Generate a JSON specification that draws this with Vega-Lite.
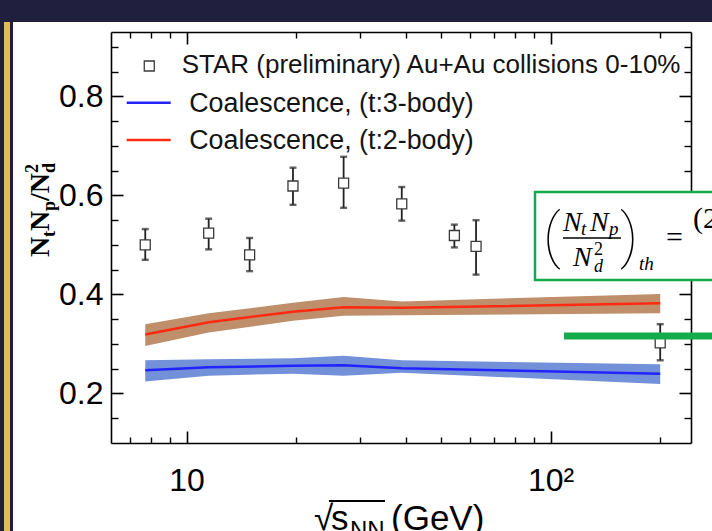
{
  "$schema": "https://vega.github.io/schema/vega-lite/v6.json",
  "width": 580,
  "height": 411,
  "autosize": {"type": "none"},
  "padding": {"left": 111, "top": 32, "right": 21, "bottom": 88},
  "background": "white",
  "config": {"view": {"stroke": null}, "axis": {"labelFont": "Liberation Sans", "labelFontSize": 32, "labelColor": "#000"}},
  "data": {"values": [{}]},
  "datasets": {
    "star": [
      {"energy": 7.7, "ratio": 0.500, "lo": 0.470, "hi": 0.532},
      {"energy": 11.5, "ratio": 0.524, "lo": 0.491, "hi": 0.553},
      {"energy": 14.9, "ratio": 0.480, "lo": 0.447, "hi": 0.514},
      {"energy": 19.6, "ratio": 0.619, "lo": 0.581, "hi": 0.656},
      {"energy": 27, "ratio": 0.625, "lo": 0.575, "hi": 0.678},
      {"energy": 39, "ratio": 0.583, "lo": 0.549, "hi": 0.617},
      {"energy": 54.4, "ratio": 0.519, "lo": 0.495, "hi": 0.541},
      {"energy": 62.4, "ratio": 0.497, "lo": 0.440, "hi": 0.550},
      {"energy": 200, "ratio": 0.302, "lo": 0.267, "hi": 0.340}
    ],
    "model": [
      {"model": "Coalescence, (t:3-body)", "energy": 7.7, "mid": 0.247, "lo": 0.224, "hi": 0.267},
      {"model": "Coalescence, (t:3-body)", "energy": 11.5, "mid": 0.253, "lo": 0.236, "hi": 0.269},
      {"model": "Coalescence, (t:3-body)", "energy": 19.6, "mid": 0.256, "lo": 0.240, "hi": 0.271},
      {"model": "Coalescence, (t:3-body)", "energy": 27, "mid": 0.257, "lo": 0.236, "hi": 0.276},
      {"model": "Coalescence, (t:3-body)", "energy": 39, "mid": 0.251, "lo": 0.242, "hi": 0.267},
      {"model": "Coalescence, (t:3-body)", "energy": 200, "mid": 0.240, "lo": 0.219, "hi": 0.259},
      {"model": "Coalescence, (t:2-body)", "energy": 7.7, "mid": 0.319, "lo": 0.296, "hi": 0.340},
      {"model": "Coalescence, (t:2-body)", "energy": 11.5, "mid": 0.344, "lo": 0.323, "hi": 0.362},
      {"model": "Coalescence, (t:2-body)", "energy": 19.6, "mid": 0.365, "lo": 0.347, "hi": 0.383},
      {"model": "Coalescence, (t:2-body)", "energy": 27, "mid": 0.374, "lo": 0.357, "hi": 0.395},
      {"model": "Coalescence, (t:2-body)", "energy": 39, "mid": 0.373, "lo": 0.358, "hi": 0.386},
      {"model": "Coalescence, (t:2-body)", "energy": 200, "mid": 0.382, "lo": 0.362, "hi": 0.401}
    ]
  },
  "layer": [
    {
      "mark": {"type": "rect", "color": "#211f3e"},
      "encoding": {
        "x": {"datum": 3.0, "type": "quantitative", "scale": {"type": "log", "domain": [6.2, 243], "nice": false}, "axis": null},
        "x2": {"datum": 300},
        "y": {"datum": 0.9502, "type": "quantitative", "scale": {"domain": [0.1, 0.93], "nice": false, "zero": false}, "axis": null},
        "y2": {"datum": 1.0}
      }
    },
    {
      "mark": {"type": "rect", "color": "#211f3e"},
      "encoding": {
        "x": {"datum": 3.0, "type": "quantitative", "scale": {"type": "log", "domain": [6.2, 243], "nice": false}, "axis": null},
        "x2": {"datum": 3.336},
        "y": {"datum": -0.1, "type": "quantitative", "scale": {"domain": [0.1, 0.93], "nice": false, "zero": false}, "axis": null},
        "y2": {"datum": 1.0}
      }
    },
    {
      "mark": {"type": "rect", "color": "#e6bb55"},
      "encoding": {
        "x": {"datum": 3.151, "type": "quantitative", "scale": {"type": "log", "domain": [6.2, 243], "nice": false}, "axis": null},
        "x2": {"datum": 3.273},
        "y": {"datum": -0.1, "type": "quantitative", "scale": {"domain": [0.1, 0.93], "nice": false, "zero": false}, "axis": null},
        "y2": {"datum": 0.9502}
      }
    },
    {
      "data": {"name": "model"},
      "mark": {"type": "area", "opacity": 1},
      "encoding": {
        "x": {"field": "energy", "type": "quantitative", "scale": {"type": "log", "domain": [6.2, 243], "nice": false},
          "axis": {"orient": "bottom", "values": [10, 100], "tickSize": -12, "labelPadding": 34, "labelExpr": "datum.value == 100 ? '10²' : '10'", "labelFont": "Liberation Sans", "labelFontSize": 32, "labelColor": "#000", "labelFlush": false, "labelOverlap": false, "title": null, "grid": false, "domain": true, "domainColor": "#000", "domainWidth": 1.6, "tickColor": "#000", "tickWidth": 1.6}},
        "y": {"field": "lo", "type": "quantitative", "scale": {"domain": [0.1, 0.93], "nice": false, "zero": false},
          "axis": {"orient": "left", "values": [0.2, 0.4, 0.6, 0.8], "tickSize": -12, "labelPadding": 20, "format": ".1f", "labelFont": "Liberation Sans", "labelFontSize": 32, "labelColor": "#000", "labelFlush": false, "labelOverlap": false, "title": null, "grid": false, "domain": true, "domainColor": "#000", "domainWidth": 1.6, "tickColor": "#000", "tickWidth": 1.6}},
        "y2": {"field": "hi"},
        "fill": {"field": "model", "type": "nominal", "scale": {"domain": ["Coalescence, (t:3-body)", "Coalescence, (t:2-body)"], "range": ["#7391d8", "#bf8e6b"]}, "legend": null}
      }
    },
    {
      "data": {"name": "model"},
      "mark": {"type": "line", "strokeWidth": 2.5},
      "encoding": {
        "x": {"field": "energy", "type": "quantitative", "scale": {"type": "log", "domain": [6.2, 243], "nice": false},
          "axis": {"orient": "top", "values": [10, 100], "tickSize": -12, "labels": false, "title": null, "grid": false, "domain": true, "domainColor": "#000", "domainWidth": 1.6, "tickColor": "#000", "tickWidth": 1.6}},
        "y": {"field": "mid", "type": "quantitative", "scale": {"domain": [0.1, 0.93], "nice": false, "zero": false},
          "axis": {"orient": "right", "values": [0.2, 0.4, 0.6, 0.8], "tickSize": -12, "labels": false, "title": null, "grid": false, "domain": true, "domainColor": "#000", "domainWidth": 1.6, "tickColor": "#000", "tickWidth": 1.6}},
        "stroke": {"field": "model", "type": "nominal", "scale": {"domain": ["Coalescence, (t:3-body)", "Coalescence, (t:2-body)"], "range": ["#2323ff", "#ff2a12"]}, "legend": null}
      }
    },
    {
      "data": {"name": "star"},
      "mark": {"type": "rule", "color": "#222", "strokeWidth": 1.8},
      "encoding": {
        "x": {"field": "energy", "type": "quantitative", "scale": {"type": "log", "domain": [6.2, 243], "nice": false},
          "axis": {"orient": "bottom", "values": [7, 8, 9, 20, 30, 40, 50, 60, 70, 80, 90, 200], "tickSize": -6, "labels": false, "title": null, "grid": false, "domain": false, "tickColor": "#000", "tickWidth": 1.4}},
        "y": {"field": "lo", "type": "quantitative", "scale": {"domain": [0.1, 0.93], "nice": false, "zero": false},
          "axis": {"orient": "left", "values": [0.15, 0.25, 0.3, 0.35, 0.45, 0.5, 0.55, 0.65, 0.7, 0.75, 0.85, 0.9], "tickSize": -7, "labels": false, "title": null, "grid": false, "domain": false, "tickColor": "#000", "tickWidth": 1.4}},
        "y2": {"field": "hi"}
      }
    },
    {
      "data": {"name": "star"},
      "mark": {"type": "tick", "orient": "horizontal", "size": 7, "thickness": 2.4, "color": "#222"},
      "encoding": {
        "x": {"field": "energy", "type": "quantitative", "scale": {"type": "log", "domain": [6.2, 243], "nice": false},
          "axis": {"orient": "top", "values": [7, 8, 9, 20, 30, 40, 50, 60, 70, 80, 90, 200], "tickSize": -6, "labels": false, "title": null, "grid": false, "domain": false, "tickColor": "#000", "tickWidth": 1.4}},
        "y": {"field": "lo", "type": "quantitative", "scale": {"domain": [0.1, 0.93], "nice": false, "zero": false},
          "axis": {"orient": "right", "values": [0.15, 0.25, 0.3, 0.35, 0.45, 0.5, 0.55, 0.65, 0.7, 0.75, 0.85, 0.9], "tickSize": -7, "labels": false, "title": null, "grid": false, "domain": false, "tickColor": "#000", "tickWidth": 1.4}}
      }
    },
    {
      "data": {"name": "star"},
      "mark": {"type": "tick", "orient": "horizontal", "size": 7, "thickness": 2.4, "color": "#222"},
      "encoding": {
        "x": {"field": "energy", "type": "quantitative", "scale": {"type": "log", "domain": [6.2, 243], "nice": false}, "axis": null},
        "y": {"field": "hi", "type": "quantitative", "scale": {"domain": [0.1, 0.93], "nice": false, "zero": false}, "axis": null}
      }
    },
    {
      "data": {"name": "star"},
      "mark": {"type": "point", "shape": "square", "fill": "#ffffff", "stroke": "#3a3a3a", "strokeWidth": 1.3, "size": 100, "opacity": 1, "fillOpacity": 1},
      "encoding": {
        "x": {"field": "energy", "type": "quantitative", "scale": {"type": "log", "domain": [6.2, 243], "nice": false}, "axis": null},
        "y": {"field": "ratio", "type": "quantitative", "scale": {"domain": [0.1, 0.93], "nice": false, "zero": false}, "axis": null}
      }
    },
    {
      "mark": {"type": "point", "shape": "square", "fill": "#ffffff", "stroke": "#3a3a3a", "strokeWidth": 1.3, "size": 100, "opacity": 1, "fillOpacity": 1},
      "encoding": {
        "x": {"datum": 7.898, "type": "quantitative", "scale": {"type": "log", "domain": [6.2, 243], "nice": false}, "axis": null},
        "y": {"datum": 0.8613, "type": "quantitative", "scale": {"domain": [0.1, 0.93], "nice": false, "zero": false}, "axis": null}
      }
    },
    {
      "mark": {"type": "rule", "color": "#2323ff", "strokeWidth": 2.5},
      "encoding": {
        "x": {"datum": 6.847, "type": "quantitative", "scale": {"type": "log", "domain": [6.2, 243], "nice": false}, "axis": null},
        "x2": {"datum": 9.044},
        "y": {"datum": 0.7872, "type": "quantitative", "scale": {"domain": [0.1, 0.93], "nice": false, "zero": false}, "axis": null}
      }
    },
    {
      "mark": {"type": "rule", "color": "#ff2a12", "strokeWidth": 2.5},
      "encoding": {
        "x": {"datum": 6.847, "type": "quantitative", "scale": {"type": "log", "domain": [6.2, 243], "nice": false}, "axis": null},
        "x2": {"datum": 9.044},
        "y": {"datum": 0.7119, "type": "quantitative", "scale": {"domain": [0.1, 0.93], "nice": false, "zero": false}, "axis": null}
      }
    },
    {
      "mark": {"type": "text", "text": "STAR (preliminary) Au+Au collisions 0-10%", "font": "Liberation Sans", "fontSize": 26, "align": "left", "baseline": "alphabetic", "color": "#141414"},
      "encoding": {
        "x": {"datum": 9.696, "type": "quantitative", "scale": {"type": "log", "domain": [6.2, 243], "nice": false}, "axis": null},
        "y": {"datum": 0.8466, "type": "quantitative", "scale": {"domain": [0.1, 0.93], "nice": false, "zero": false}, "axis": null}
      }
    },
    {
      "mark": {"type": "text", "text": "Coalescence, (t:3-body)", "font": "Liberation Sans", "fontSize": 26.8, "align": "left", "baseline": "alphabetic", "color": "#141414"},
      "encoding": {
        "x": {"datum": 10.17, "type": "quantitative", "scale": {"type": "log", "domain": [6.2, 243], "nice": false}, "axis": null},
        "y": {"datum": 0.7691, "type": "quantitative", "scale": {"domain": [0.1, 0.93], "nice": false, "zero": false}, "axis": null}
      }
    },
    {
      "mark": {"type": "text", "text": "Coalescence, (t:2-body)", "font": "Liberation Sans", "fontSize": 26.8, "align": "left", "baseline": "alphabetic", "color": "#141414"},
      "encoding": {
        "x": {"datum": 10.17, "type": "quantitative", "scale": {"type": "log", "domain": [6.2, 243], "nice": false}, "axis": null},
        "y": {"datum": 0.6937, "type": "quantitative", "scale": {"domain": [0.1, 0.93], "nice": false, "zero": false}, "axis": null}
      }
    },
    {
      "mark": {"type": "rule", "color": "#14ac4b", "strokeWidth": 7},
      "encoding": {
        "x": {"datum": 108.8, "type": "quantitative", "scale": {"type": "log", "domain": [6.2, 243], "nice": false}, "axis": null},
        "x2": {"datum": 300},
        "y": {"datum": 0.3161, "type": "quantitative", "scale": {"domain": [0.1, 0.93], "nice": false, "zero": false}, "axis": null}
      }
    },
    {
      "mark": {"type": "rect", "fill": "#ffffff", "stroke": "#14ac4b", "strokeWidth": 2.5},
      "encoding": {
        "x": {"datum": 90.6, "type": "quantitative", "scale": {"type": "log", "domain": [6.2, 243], "nice": false}, "axis": null},
        "x2": {"datum": 300},
        "y": {"datum": 0.4292, "type": "quantitative", "scale": {"domain": [0.1, 0.93], "nice": false, "zero": false}, "axis": null},
        "y2": {"datum": 0.6069}
      }
    },
    {
      "mark": {"type": "rule", "color": "#000", "strokeWidth": 1.3},
      "encoding": {
        "x": {"datum": 108.15, "type": "quantitative", "scale": {"type": "log", "domain": [6.2, 243], "nice": false}, "axis": null},
        "x2": {"datum": 156.1},
        "y": {"datum": 0.514, "type": "quantitative", "scale": {"domain": [0.1, 0.93], "nice": false, "zero": false}, "axis": null}
      }
    },
    {
      "encoding": {
        "x": {"datum": 108.15, "type": "quantitative", "scale": {"type": "log", "domain": [6.2, 243], "nice": false}, "axis": null},
        "y": {"datum": 0.514, "type": "quantitative", "scale": {"domain": [0.1, 0.93], "nice": false, "zero": false}, "axis": null}
      },
      "layer": [
        {"mark": {"type": "text", "text": "(", "font": "Roboto", "fontWeight": 100, "fontSize": 60, "align": "left", "baseline": "alphabetic", "dx": -20, "dy": 18, "color": "#000"}},
        {"mark": {"type": "text", "text": ")", "font": "Roboto", "fontWeight": 100, "fontSize": 60, "align": "left", "baseline": "alphabetic", "dx": 57, "dy": 18, "color": "#000"}},
        {"mark": {"type": "text", "text": "N", "font": "Liberation Serif", "fontStyle": "italic", "fontSize": 28, "align": "left", "baseline": "alphabetic", "dx": 0, "dy": -7, "color": "#000"}},
        {"mark": {"type": "text", "text": "t", "font": "Liberation Serif", "fontStyle": "italic", "fontSize": 19, "align": "left", "baseline": "alphabetic", "dx": 18, "dy": -3, "color": "#000"}},
        {"mark": {"type": "text", "text": "N", "font": "Liberation Serif", "fontStyle": "italic", "fontSize": 28, "align": "left", "baseline": "alphabetic", "dx": 27, "dy": -7, "color": "#000"}},
        {"mark": {"type": "text", "text": "p", "font": "Liberation Serif", "fontStyle": "italic", "fontSize": 19, "align": "left", "baseline": "alphabetic", "dx": 46, "dy": -3, "color": "#000"}},
        {"mark": {"type": "text", "text": "N", "font": "Liberation Serif", "fontStyle": "italic", "fontSize": 28, "align": "left", "baseline": "alphabetic", "dx": 10, "dy": 28, "color": "#000"}},
        {"mark": {"type": "text", "text": "2", "font": "Liberation Serif", "fontSize": 18, "align": "left", "baseline": "alphabetic", "dx": 31, "dy": 17, "color": "#000"}},
        {"mark": {"type": "text", "text": "d", "font": "Liberation Serif", "fontStyle": "italic", "fontSize": 18, "align": "left", "baseline": "alphabetic", "dx": 31, "dy": 34, "color": "#000"}},
        {"mark": {"type": "text", "text": "th", "font": "Liberation Serif", "fontStyle": "italic", "fontSize": 19, "align": "left", "baseline": "alphabetic", "dx": 76, "dy": 32, "color": "#000"}},
        {"mark": {"type": "text", "text": "=", "font": "Liberation Serif", "fontSize": 30, "align": "left", "baseline": "alphabetic", "dx": 103, "dy": 9, "color": "#000"}},
        {"mark": {"type": "text", "text": "(2", "font": "Liberation Serif", "fontSize": 30, "align": "left", "baseline": "alphabetic", "dx": 130, "dy": -10, "color": "#000"}}
      ]
    },
    {
      "encoding": {
        "x": {"datum": 4.189, "type": "quantitative", "scale": {"type": "log", "domain": [6.2, 243], "nice": false}, "axis": null},
        "y": {"datum": 0.4757, "type": "quantitative", "scale": {"domain": [0.1, 0.93], "nice": false, "zero": false}, "axis": null}
      },
      "layer": [
        {"mark": {"type": "text", "text": "N", "angle": 270, "font": "Liberation Serif", "fontWeight": "bold", "fontSize": 28, "align": "left", "baseline": "alphabetic", "dx": 0, "dy": 0, "color": "#000"}},
        {"mark": {"type": "text", "text": "t", "angle": 270, "font": "Liberation Serif", "fontWeight": "bold", "fontSize": 18, "align": "left", "baseline": "alphabetic", "dx": 20, "dy": 6, "color": "#000"}},
        {"mark": {"type": "text", "text": "N", "angle": 270, "font": "Liberation Serif", "fontWeight": "bold", "fontSize": 28, "align": "left", "baseline": "alphabetic", "dx": 26, "dy": 0, "color": "#000"}},
        {"mark": {"type": "text", "text": "p", "angle": 270, "font": "Liberation Serif", "fontWeight": "bold", "fontSize": 18, "align": "left", "baseline": "alphabetic", "dx": 46, "dy": 6, "color": "#000"}},
        {"mark": {"type": "text", "text": "/N", "angle": 270, "font": "Liberation Serif", "fontWeight": "bold", "fontSize": 28, "align": "left", "baseline": "alphabetic", "dx": 56, "dy": 0, "color": "#000"}},
        {"mark": {"type": "text", "text": "2", "angle": 270, "font": "Liberation Serif", "fontWeight": "bold", "fontSize": 18, "align": "left", "baseline": "alphabetic", "dx": 84, "dy": -11, "color": "#000"}},
        {"mark": {"type": "text", "text": "d", "angle": 270, "font": "Liberation Serif", "fontWeight": "bold", "fontSize": 18, "align": "left", "baseline": "alphabetic", "dx": 84, "dy": 6, "color": "#000"}}
      ]
    },
    {
      "mark": {"type": "rule", "color": "#000", "strokeWidth": 1.8},
      "encoding": {
        "x": {"datum": 24.61, "type": "quantitative", "scale": {"type": "log", "domain": [6.2, 243], "nice": false}, "axis": null},
        "x2": {"datum": 35.08},
        "y": {"datum": -0.0171, "type": "quantitative", "scale": {"domain": [0.1, 0.93], "nice": false, "zero": false}, "axis": null}
      }
    },
    {
      "encoding": {
        "x": {"datum": 22.39, "type": "quantitative", "scale": {"type": "log", "domain": [6.2, 243], "nice": false}, "axis": null},
        "y": {"datum": -0.0757, "type": "quantitative", "scale": {"domain": [0.1, 0.93], "nice": false, "zero": false}, "axis": null}
      },
      "layer": [
        {"mark": {"type": "text", "text": "√", "font": "Liberation Sans", "fontSize": 35, "align": "left", "baseline": "alphabetic", "dx": 0, "dy": 0, "color": "#000"}},
        {"mark": {"type": "text", "text": "s", "font": "Liberation Sans", "fontSize": 35, "align": "left", "baseline": "alphabetic", "dx": 17, "dy": 0, "color": "#000"}},
        {"mark": {"type": "text", "text": "NN", "font": "Liberation Sans", "fontSize": 24, "align": "left", "baseline": "alphabetic", "dx": 36, "dy": 8, "color": "#000"}},
        {"mark": {"type": "text", "text": "(GeV)", "font": "Liberation Sans", "fontSize": 35, "align": "left", "baseline": "alphabetic", "dx": 77, "dy": 0, "color": "#000"}}
      ]
    }
  ],
  "resolve": {"axis": {"x": "independent", "y": "independent"}}
}
